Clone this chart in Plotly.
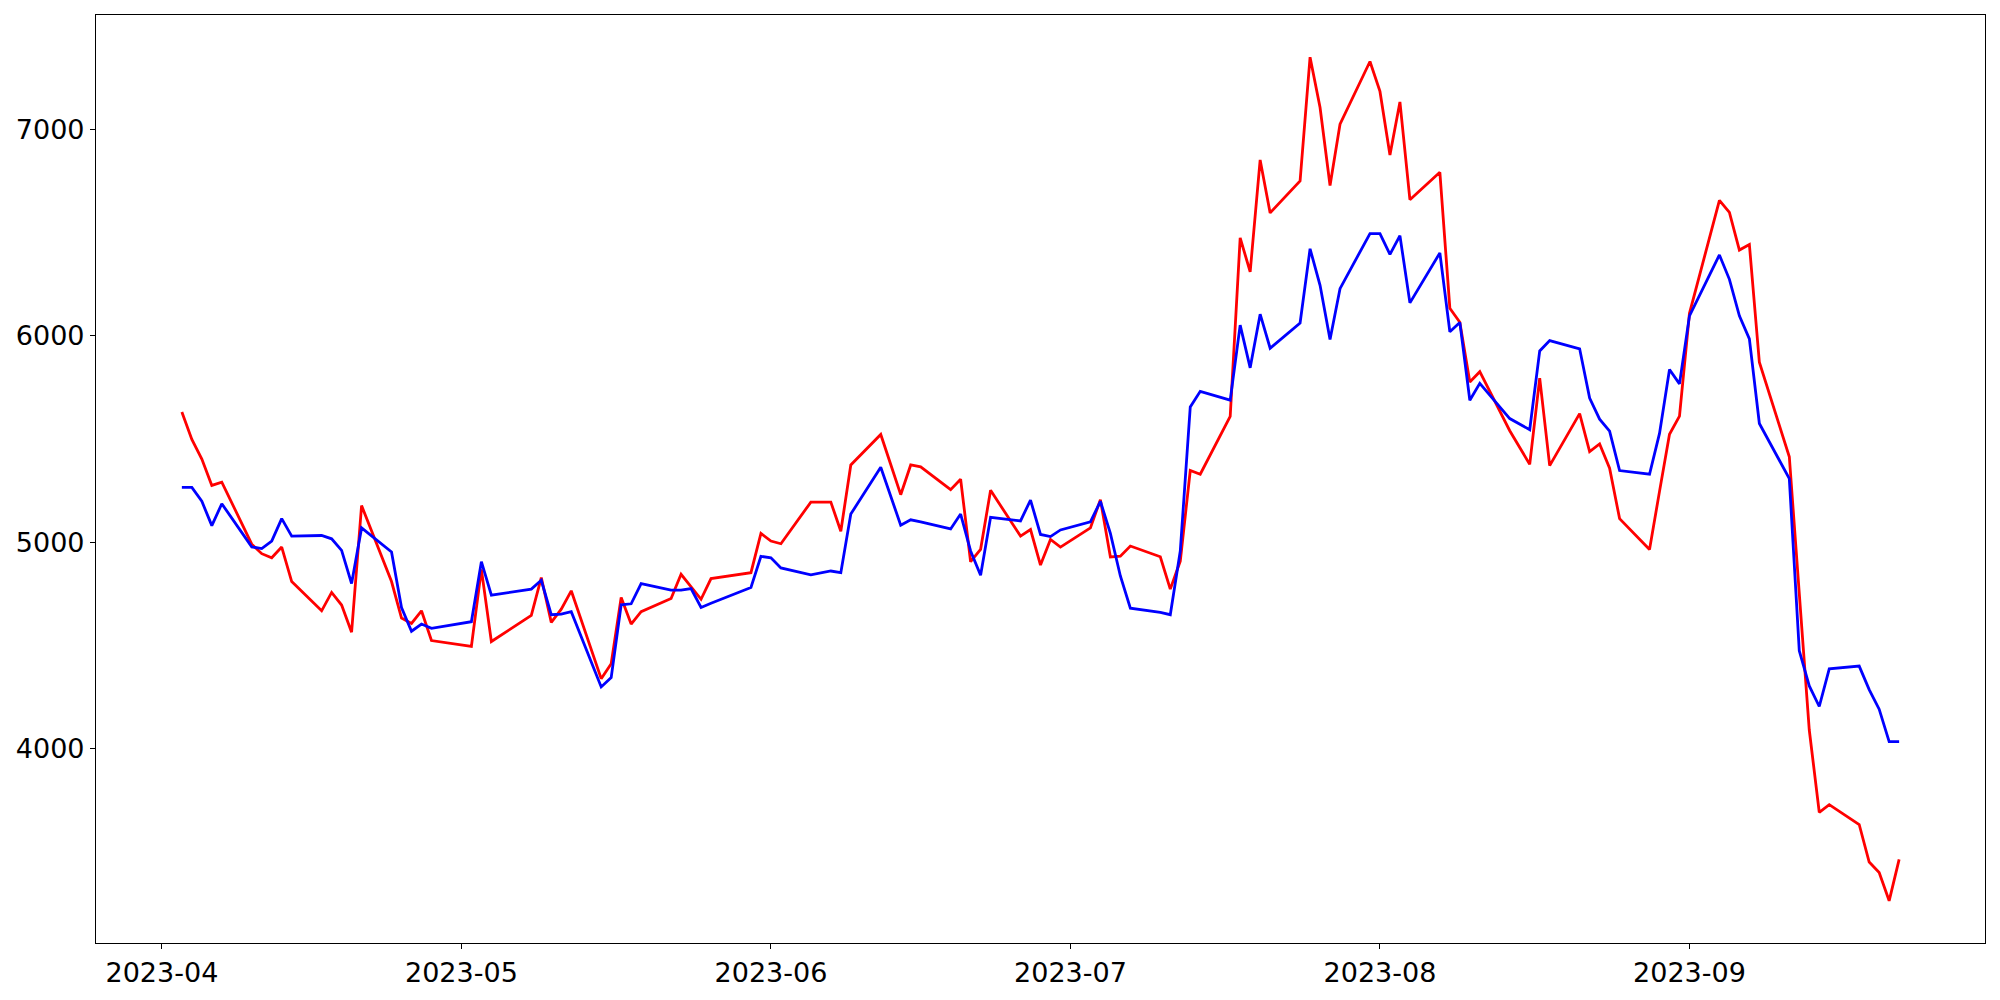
import plotly.graph_objects as go
import pandas as pd

dates = [
    "2023-04-03", "2023-04-04", "2023-04-05", "2023-04-06", "2023-04-07",
    "2023-04-10", "2023-04-11", "2023-04-12", "2023-04-13", "2023-04-14",
    "2023-04-17", "2023-04-18", "2023-04-19", "2023-04-20", "2023-04-21",
    "2023-04-24", "2023-04-25", "2023-04-26", "2023-04-27", "2023-04-28",
    "2023-05-02", "2023-05-03", "2023-05-04",
    "2023-05-08", "2023-05-09", "2023-05-10", "2023-05-11", "2023-05-12",
    "2023-05-15", "2023-05-16", "2023-05-17", "2023-05-18", "2023-05-19",
    "2023-05-22", "2023-05-23", "2023-05-24", "2023-05-25", "2023-05-26",
    "2023-05-30", "2023-05-31", "2023-06-01", "2023-06-02",
    "2023-06-05", "2023-06-07", "2023-06-08", "2023-06-09",
    "2023-06-12", "2023-06-13", "2023-06-14", "2023-06-15", "2023-06-16",
    "2023-06-19", "2023-06-20", "2023-06-21", "2023-06-22", "2023-06-23",
    "2023-06-26", "2023-06-27", "2023-06-28", "2023-06-29", "2023-06-30",
    "2023-07-03", "2023-07-04", "2023-07-05", "2023-07-06", "2023-07-07",
    "2023-07-10", "2023-07-11", "2023-07-12", "2023-07-13", "2023-07-14",
    "2023-07-17", "2023-07-18", "2023-07-19", "2023-07-20", "2023-07-21",
    "2023-07-24", "2023-07-25", "2023-07-26", "2023-07-27", "2023-07-28",
    "2023-07-31", "2023-08-01", "2023-08-02", "2023-08-03", "2023-08-04",
    "2023-08-07", "2023-08-08", "2023-08-09", "2023-08-10", "2023-08-11",
    "2023-08-14", "2023-08-16", "2023-08-17", "2023-08-18",
    "2023-08-21", "2023-08-22", "2023-08-23", "2023-08-24", "2023-08-25",
    "2023-08-28", "2023-08-29", "2023-08-30", "2023-08-31", "2023-09-01",
    "2023-09-04", "2023-09-05", "2023-09-06", "2023-09-07", "2023-09-08",
    "2023-09-11", "2023-09-12", "2023-09-13", "2023-09-14", "2023-09-15",
    "2023-09-18", "2023-09-19", "2023-09-20", "2023-09-21", "2023-09-22",
]

red_values = [
    5631, 5498, 5403, 5275, 5291,
    4990, 4944, 4924, 4976, 4809,
    4667, 4756, 4695, 4563, 5177,
    4809, 4632, 4606, 4667, 4523,
    4494, 4868, 4518,
    4645, 4828, 4611, 4675, 4764,
    4338, 4410, 4732, 4603, 4663,
    4727, 4844, 4783, 4723, 4823,
    4852, 5042, 5005, 4992,
    5194, 5194, 5053, 5374,
    5522, 5376, 5230, 5374, 5365,
    5254, 5305, 4905, 4965, 5251,
    5029, 5061, 4889, 5013, 4976,
    5069, 5206, 4928, 4932, 4981,
    4929, 4772, 4908, 5347, 5329,
    5610, 6475, 6310, 6853, 6596,
    6751, 7351, 7107, 6729, 7026,
    7330, 7185, 6877, 7134, 6660,
    6793, 6134, 6066, 5776, 5826,
    5540, 5377, 5795, 5371,
    5623, 5439, 5476, 5358, 5114,
    4964, 5246, 5523, 5611, 6109,
    6657, 6599, 6416, 6443, 5872,
    5414, 4750, 4089, 3690, 3727,
    3631, 3449, 3398, 3261, 3462,
]

blue_values = [
    5265, 5265, 5198, 5080, 5186,
    4977, 4969, 5005, 5114, 5029,
    5032, 5016, 4960, 4799, 5069,
    4952, 4683, 4568, 4603, 4582,
    4614, 4905, 4743,
    4772, 4815, 4648, 4651, 4663,
    4298, 4343, 4696, 4701, 4799,
    4767, 4767, 4775, 4683, 4704,
    4780, 4931, 4924, 4875,
    4841, 4860, 4852, 5136,
    5363, 5222, 5082, 5108, 5098,
    5064, 5136, 4957, 4839, 5120,
    5103, 5204, 5037, 5027, 5059,
    5098, 5198, 5042, 4836, 4680,
    4659, 4648, 4957, 5655, 5731,
    5688, 6052, 5845, 6105, 5940,
    6062, 6422, 6245, 5982, 6229,
    6496, 6496, 6395, 6486, 6160,
    6402, 6020, 6065, 5688, 5770,
    5599, 5545, 5927, 5977,
    5937, 5698, 5596, 5538, 5347,
    5329, 5527, 5837, 5767, 6097,
    6392, 6274, 6097, 5985, 5575,
    5308, 4473, 4303, 4203, 4386,
    4399, 4285, 4190, 4033, 4033,
]

ytick_vals = [4000, 5000, 6000, 7000]

dt = pd.to_datetime(dates)
span = dt.max() - dt.min()
x_range = [dt.min() - span * 0.05, dt.max() + span * 0.05]
all_vals = red_values + blue_values
vmin, vmax = min(all_vals), max(all_vals)
pad = (vmax - vmin) * 0.05
y_range = [vmin - pad, vmax + pad]

fig = go.Figure()
fig.add_trace(go.Scatter(x=dt, y=red_values, mode="lines",
                         line=dict(color="#ff0000", width=2.8), showlegend=False))
fig.add_trace(go.Scatter(x=dt, y=blue_values, mode="lines",
                         line=dict(color="#0000ff", width=2.8), showlegend=False))

axis_common = dict(
    showgrid=False, zeroline=False, showline=True, mirror=True,
    linecolor="black", linewidth=1.2, ticks="outside", ticklen=5,
    tickwidth=1.2, tickcolor="black",
    tickfont=dict(family="DejaVu Sans", size=27, color="black"),
)

fig.update_xaxes(range=x_range, type="date", tickformat="%Y-%m",
                 dtick="M1", tick0="2023-04-01", **axis_common)
fig.update_yaxes(range=y_range, tickvals=ytick_vals,
                 ticktext=[str(v) for v in ytick_vals], **axis_common)

fig.update_layout(
    width=2000, height=1000, autosize=False,
    margin=dict(l=96, r=15, t=15, b=54, pad=0),
    plot_bgcolor="white", paper_bgcolor="white",
)

fig.write_html("out.html",
               config={"displayModeBar": False},
               post_script="document.body.style.margin='0';document.body.style.overflow='hidden';")
